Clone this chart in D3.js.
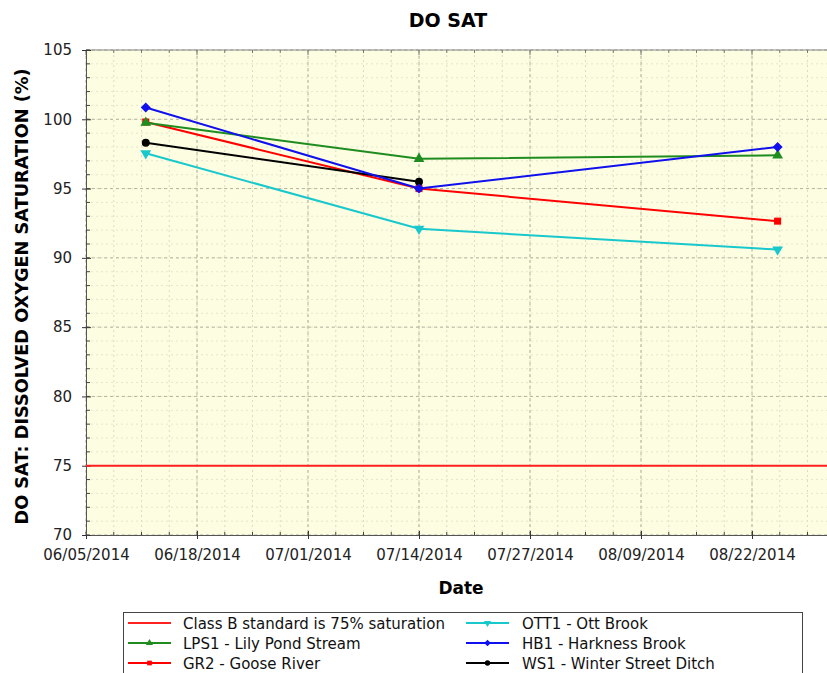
<!DOCTYPE html>
<html>
<head>
<meta charset="utf-8">
<script src="https://cdn.jsdelivr.net/npm/d3@7"></script>
<style>
  body { margin: 0; background: #fff; }
  svg { display: block; font-family: "DejaVu Sans", sans-serif; }
</style>
</head>
<body>
<svg id="chart" width="827" height="673"></svg>
<script>
// sampling dates and DO saturation readings (%) per station
const dates = ["2014-06-12", "2014-07-14", "2014-08-25"];
const lps1 = [99.75, 97.15, 97.4];
const gr2 = [99.8, 95.0, 92.65];
const ott1 = [97.55, 92.1, 90.6];
const hb1 = [100.85, 95.0, 98.0];
const ws1 = [98.3, 95.5, null];
const standard = 75;

const yTicks = [70, 75, 80, 85, 90, 95, 100, 105];
const xTickLabels = ["06/05/2014", "06/18/2014", "07/01/2014", "07/14/2014", "07/27/2014", "08/09/2014", "08/22/2014"];

const series = [
  { name: "GR2 - Goose River", values: gr2, color: "#ff0000", symbol: "square" },
  { name: "LPS1 - Lily Pond Stream", values: lps1, color: "#1e8c1e", symbol: "triangle" },
  { name: "OTT1 - Ott Brook", values: ott1, color: "#18c8cc", symbol: "down" },
  { name: "WS1 - Winter Street Ditch", values: ws1, color: "#000000", symbol: "circle" },
  { name: "HB1 - Harkness Brook", values: hb1, color: "#1010ee", symbol: "diamond" }
];
const legendOrder = [
  ["Class B standard is 75% saturation", "LPS1 - Lily Pond Stream", "GR2 - Goose River"],
  ["OTT1 - Ott Brook", "HB1 - Harkness Brook", "WS1 - Winter Street Ditch"]
];

const svg = d3.select("#chart");
const parse = d3.utcParse("%Y-%m-%d");
const parseTick = d3.utcParse("%m/%d/%Y");
const fmt = d3.utcFormat("%m/%d/%Y");
const day = 24 * 3600 * 1000;

const plot = { left: 86, top: 50, right: 863, bottom: 535 };
const xMajor = xTickLabels.map(parseTick);
const step = xMajor[1] - xMajor[0];
const x0 = xMajor[0];
// axis runs one more step past the last label (cut by the picture's edge)
const x1 = new Date(+xMajor[xMajor.length - 1] + step);

const xScale = d3.scaleUtc().domain([x0, x1]).range([plot.left, plot.right]);
const yScale = d3.scaleLinear().domain([70, 105]).range([plot.bottom, plot.top]);

const xMinor = d3.range(0, 29).map(i => new Date(+x0 + i * step / 4));
const yMinor = d3.range(70, 106);

// plot background
svg.append("rect")
  .attr("x", plot.left).attr("y", plot.top)
  .attr("width", plot.right - plot.left).attr("height", plot.bottom - plot.top)
  .attr("fill", "#fdfde2");

// grid
const grid = svg.append("g");
grid.selectAll(".vminor").data(xMinor).join("line")
  .attr("x1", d => xScale(d)).attr("x2", d => xScale(d))
  .attr("y1", plot.top).attr("y2", plot.bottom)
  .attr("stroke", "#dcdcc4").attr("stroke-dasharray", "2,3");
grid.selectAll(".hminor").data(yMinor).join("line")
  .attr("x1", plot.left).attr("x2", plot.right)
  .attr("y1", d => yScale(d)).attr("y2", d => yScale(d))
  .attr("stroke", "#e6e6cc").attr("stroke-dasharray", "2,3");
grid.selectAll(".vmajor").data(xMajor).join("line")
  .attr("x1", d => xScale(d)).attr("x2", d => xScale(d))
  .attr("y1", plot.top).attr("y2", plot.bottom)
  .attr("stroke", "#b4b4a0").attr("stroke-dasharray", "3,3");
grid.selectAll(".hmajor").data(yTicks).join("line")
  .attr("x1", plot.left).attr("x2", plot.right)
  .attr("y1", d => yScale(d)).attr("y2", d => yScale(d))
  .attr("stroke", "#b4b4a0").attr("stroke-dasharray", "3,3");

// axes
const xAxis = svg.append("g")
  .attr("transform", `translate(0,${plot.bottom})`)
  .call(d3.axisBottom(xScale).tickValues(xMajor).tickFormat(fmt).tickSize(4).tickPadding(10));
xAxis.selectAll(".tick line").attr("y1", -4).attr("stroke", "#333");
xAxis.select(".domain").attr("stroke", "#555");
xAxis.selectAll("text").attr("font-size", 15).attr("fill", "#222")
  .attr("font-family", "DejaVu Sans");
xAxis.selectAll(".minor").data(xMinor).join("line").attr("class", "minor")
  .attr("x1", d => xScale(d)).attr("x2", d => xScale(d))
  .attr("y1", -3).attr("y2", 0).attr("stroke", "#444");

const xTop = svg.append("g")
  .attr("transform", `translate(0,${plot.top})`);
xTop.append("line").attr("x1", plot.left).attr("x2", plot.right).attr("stroke", "#888");
xTop.selectAll(".minor").data(xMinor).join("line")
  .attr("x1", d => xScale(d)).attr("x2", d => xScale(d))
  .attr("y1", 0).attr("y2", (d, i) => i % 4 === 0 ? 5 : 3).attr("stroke", "#777");

const yAxis = svg.append("g")
  .attr("transform", `translate(${plot.left},0)`)
  .call(d3.axisLeft(yScale).tickValues(yTicks).tickSize(4).tickPadding(10));
yAxis.selectAll(".tick line").attr("x1", 5).attr("stroke", "#333");
yAxis.select(".domain").attr("stroke", "#555");
yAxis.selectAll("text").attr("font-size", 15).attr("fill", "#222")
  .attr("font-family", "DejaVu Sans");
yAxis.selectAll(".minor").data(yMinor).join("line").attr("class", "minor")
  .attr("x1", 0).attr("x2", 4)
  .attr("y1", d => yScale(d)).attr("y2", d => yScale(d)).attr("stroke", "#444");

// titles
svg.append("text")
  .attr("x", 448).attr("y", 27)
  .attr("text-anchor", "middle").attr("font-weight", "bold").attr("font-size", 19)
  .text("DO SAT");
svg.append("text")
  .attr("transform", `translate(28,${(plot.top + plot.bottom) / 2 + 4}) rotate(-90)`)
  .attr("text-anchor", "middle").attr("font-weight", "bold").attr("font-size", 17.7)
  .text("DO SAT: DISSOLVED OXYGEN SATURATION (%)");
svg.append("text")
  .attr("x", 461).attr("y", 594)
  .attr("text-anchor", "middle").attr("font-weight", "bold").attr("font-size", 17)
  .text("Date");

// standard line
svg.append("line")
  .attr("x1", plot.left).attr("x2", plot.right)
  .attr("y1", yScale(standard)).attr("y2", yScale(standard))
  .attr("stroke", "#ff2020").attr("stroke-width", 2);

function symbolPath(kind, size) {
  if (kind === "square" || kind === "diamond") return d3.symbol(d3.symbolSquare, size)();
  if (kind === "circle") return d3.symbol(d3.symbolCircle, size)();
  return d3.symbol(d3.symbolTriangle, size)();
}
function symbolRotate(kind) {
  if (kind === "down") return " rotate(180)";
  if (kind === "diamond") return " rotate(45)";
  return "";
}

const line = d3.line()
  .x(d => xScale(d.date))
  .y(d => yScale(d.v));

series.forEach(s => {
  const pts = dates.map((d, i) => ({ date: parse(d), v: s.values[i] })).filter(p => p.v != null);
  svg.append("path")
    .datum(pts)
    .attr("fill", "none").attr("stroke", s.color).attr("stroke-width", 2)
    .attr("d", line);
  svg.selectAll(null).data(pts).join("path")
    .attr("transform", d => `translate(${xScale(d.date)},${yScale(d.v)})` + symbolRotate(s.symbol))
    .attr("d", symbolPath(s.symbol, 50))
    .attr("fill", s.color);
});

// legend
const legend = svg.append("g");
legend.append("rect")
  .attr("x", 123.5).attr("y", 612.5).attr("width", 679).attr("height", 70)
  .attr("fill", "#fff").attr("stroke", "#444");
const colX = [128, 466];
legendOrder.forEach((col, ci) => {
  col.forEach((name, ri) => {
    const y = 623 + ri * 20;
    const g = legend.append("g").attr("transform", `translate(${colX[ci]},${y})`);
    const s = series.find(d => d.name === name);
    const color = s ? s.color : "#ff2020";
    g.append("line").attr("x1", 0).attr("x2", 43).attr("stroke", color).attr("stroke-width", 2);
    if (s) {
      g.append("path")
        .attr("transform", "translate(21.5,0)" + symbolRotate(s.symbol))
        .attr("d", symbolPath(s.symbol, 22))
        .attr("fill", color);
    }
    g.append("text")
      .attr("x", ci === 0 ? 55 : 56).attr("y", 5.5)
      .attr("font-size", 15).attr("fill", "#111")
      .text(name);
  });
});
</script>
</body>
</html>
